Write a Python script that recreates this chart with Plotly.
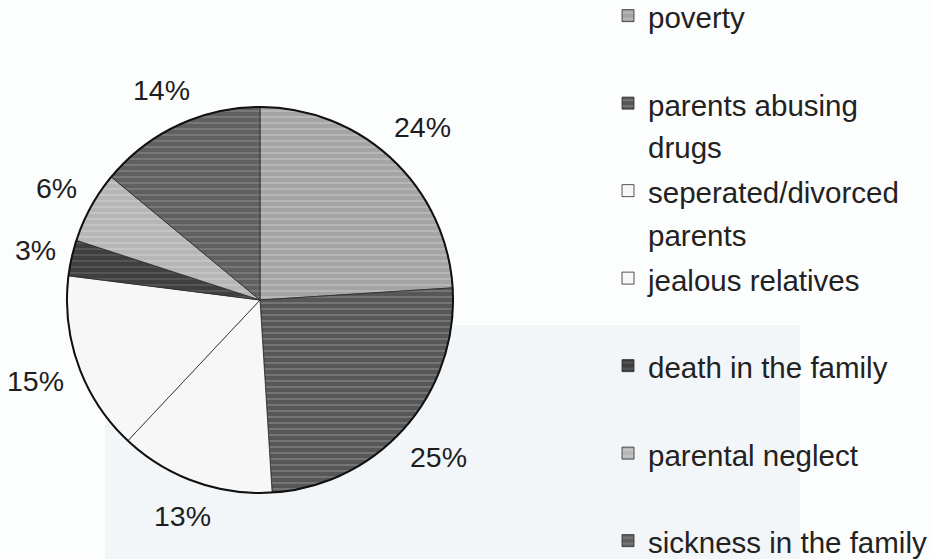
import math
import plotly.graph_objects as go

# ---- data ----
causes = ["poverty", "parents abusing drugs", "seperated/divorced parents",
          "jealous relatives", "death in the family", "parental neglect",
          "sickness in the family"]
legend_lines = [["poverty"], ["parents abusing", "drugs"], ["seperated/divorced", "parents"],
                ["jealous relatives"], ["death in the family"], ["parental neglect"],
                ["sickness in the family"]]
percent = [24, 25, 13, 15, 3, 6, 14]

# ---- styles ----
fill = ["#a4a4a4", "#575757", "#f7f7f7", "#f7f7f7", "#3f3f3f", "#b6b6b6", "#606060"]
stripe = ["#d8d8d8", "#a8a8a8", "#eeeeee", "#eeeeee", "#7a7a7a", "#dcdcdc", "#a0a0a0"]
shape = ["-", "-", "", "", "-", "-", "-"]

W, H = 930, 559
cx, cy, r = 260, 300, 193
label_gap = 14
label_font = 28.5

def span(line, size=29.5):
    return f"<span style='font-size:{size}px'>{line}</span>"

labels_html = []
for i, lines in enumerate(legend_lines):
    body = "<br>".join(span(l) for l in lines)
    if len(lines) == 1 and i < len(legend_lines) - 1:
        body += "<br> "
    labels_html.append(body)

dom_x = [(cx - r) / W, (cx + r) / W]
dom_y = [(H - cy - r) / H, (H - cy + r) / H]

fig = go.Figure()

fig.add_trace(go.Pie(
    labels=labels_html,
    values=percent,
    sort=False,
    direction="clockwise",
    rotation=0,
    domain=dict(x=dom_x, y=dom_y),
    textinfo="none",
    marker=dict(colors=fill,
                line=dict(color="#2a2a2a", width=0.8),
                pattern=dict(shape=shape, fgcolor=stripe, bgcolor=fill,
                             size=6, solidity=0.25, fillmode="overlay")),
    hoverinfo="skip",
    showlegend=True,
))

# outer circle outline
fig.add_trace(go.Pie(
    values=[1], labels=["outline"], sort=False,
    domain=dict(x=dom_x, y=dom_y),
    marker=dict(colors=["rgba(0,0,0,0)"], line=dict(color="#111111", width=2)),
    textinfo="none", hoverinfo="skip", showlegend=False,
))

# percentage labels placed just outside each slice, at the slice's mid-angle
annotations = []
total = sum(percent)
cum = 0
for v in percent:
    txt = f"{v}%"
    mid = 2 * math.pi * (cum + v / 2) / total
    cum += v
    hw = 0.5 * label_font * (0.556 * len(str(v)) + 0.889)
    hh = 0.5 * label_font
    d = r + label_gap + hw * abs(math.sin(mid)) + hh * abs(math.cos(mid))
    px = cx + d * math.sin(mid)
    py = cy - d * math.cos(mid)
    annotations.append(dict(text=txt, x=px / W, y=(H - py) / H,
                            xref="paper", yref="paper", xanchor="center", yanchor="middle",
                            showarrow=False,
                            font=dict(family="Liberation Sans, Arial", size=label_font, color="#1e1e1e")))

shapes = [dict(type="rect", xref="paper", yref="paper", layer="below",
               x0=105 / W, x1=800 / W, y0=0, y1=(H - 325) / H,
               fillcolor="#f3f6f9", line=dict(width=0))]

fig.update_layout(
    width=W, height=H,
    margin=dict(l=0, r=0, t=0, b=0, autoexpand=False),
    paper_bgcolor="#fcfdfd",
    plot_bgcolor="#fcfdfd",
    font=dict(family="Liberation Sans, Arial", color="#222222"),
    showlegend=True,
    legend=dict(x=608 / W, y=1 + 12 / H, xanchor="left", yanchor="top",
                valign="top", bgcolor="rgba(0,0,0,0)", borderwidth=0,
                maxheight=900,
                font=dict(family="Liberation Sans, Arial", size=32.5, color="#222222"),
                traceorder="normal"),
    shapes=shapes,
    annotations=annotations,
)

fig.write_html("out.html")
